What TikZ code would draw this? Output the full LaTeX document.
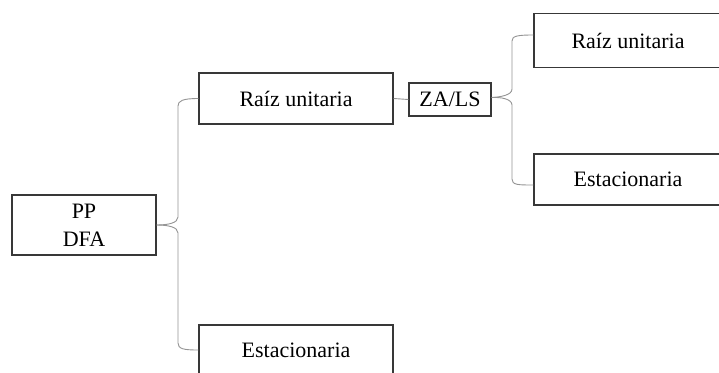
\documentclass[tikz,border=0pt]{standalone}
\usepackage{fontspec}
\setmainfont{Liberation Serif}
\usetikzlibrary{calc}
\begin{document}
\begin{tikzpicture}[x=1pt,y=-1pt,
  box/.style={draw=black!78, line width=1.4pt, inner sep=0pt, align=center,
    font=\fontsize{22}{28}\selectfont, text=black},
  brace/.style={draw=black!42, line width=0.9pt}]
\useasboundingbox (0,0) rectangle (719,372);
\clip (0,0) rectangle (719,372);
\fill[white] (0,0) rectangle (719,372);
\node[box, minimum width=144pt, minimum height=60pt] (pp) at (84,225) {PP\\DFA};
\node[box, minimum width=194pt, minimum height=51pt] (ru) at (296,98.5) {Raíz unitaria};
\node[box, minimum width=194pt, minimum height=50pt] (es) at (296,350) {Estacionaria};
\node[box, minimum width=82pt, minimum height=33pt] (za) at (450,99.5) {ZA/LS};
\node[box, minimum width=188pt, minimum height=53.5pt] (ru2) at (628,40.5) {Raíz unitaria};
\node[box, minimum width=188pt, minimum height=51pt] (es2) at (628,179.5) {Estacionaria};
% left brace
\draw[brace] (ru.west) .. controls +(-16,0) and +(0,-5) .. (178,106) -- (178,217)
  .. controls (178,223) and (168,225) .. (pp.east);
\draw[brace] (pp.east) .. controls (168,225) and (178,227) .. (178,233) -- (178,343)
  .. controls (178,349) and (184,350) .. (es.west);
% connector
\draw[brace] (ru.east) -- (za.west);
% right brace
\coordinate (zt) at ($(za.east)+(0,-2)$);
\coordinate (rt) at ($(ru2.west)+(0,-5.5)$);
\coordinate (rb) at ($(es2.west)+(0,5.5)$);
\draw[brace] (rt) .. controls +(-16,0) and +(0,-5) .. (512,41) -- (512,89)
  .. controls (512,95) and (501,97) .. (zt);
\draw[brace] (zt) .. controls (501,97) and (512,99) .. (512,105) -- (512,179)
  .. controls (512,185) and (518,185) .. (rb);
\end{tikzpicture}
\end{document}
